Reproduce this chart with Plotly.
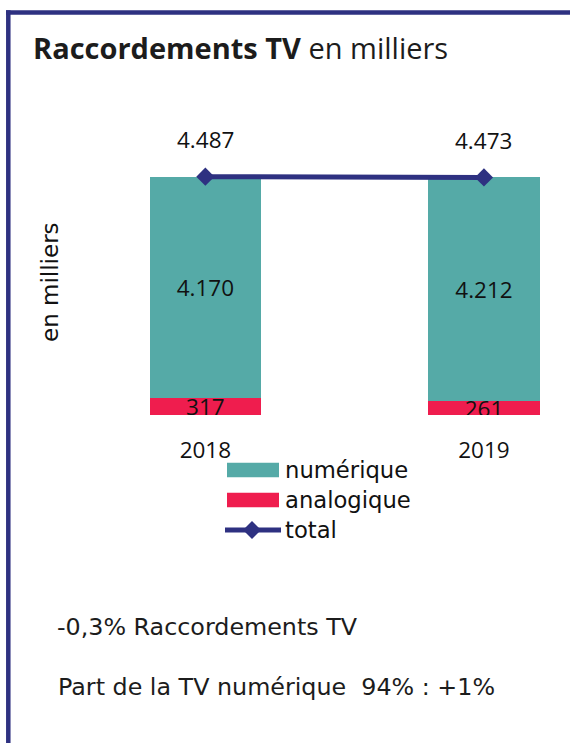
import plotly.graph_objects as go

# --- data -----------------------------------------------------------------
years = ["2018", "2019"]
numerique = [4170, 4212]
analogique = [317, 261]
total = [4487, 4473]
x_pos = [0, 1]

legend_labels = ["numérique", "analogique", "total"]
title_bold = "Raccordements TV"
title_rest = "en milliers"
y_title = "en milliers"
notes = ["-0,3% Raccordements TV", "Part de la TV numérique\u00a0\u00a094% : +1%"]

# --- style ----------------------------------------------------------------
TEAL = "#55AAA7"
RED = "#EF1D4E"
NAVY = "#2E3181"
TEXT = "#1c1c1c"
NUM_FONT = "Open Sans"
TXT_FONT = "DejaVu Sans"

W, H = 570, 743


def px(x):
    return x / W


def py(y):
    return 1 - y / H


def fmt(v):
    return f"{v:,}".replace(",", ".")


fig = go.Figure()

bar_text_font = dict(family=NUM_FONT, size=22.5, color="#111111")
fig.add_trace(go.Bar(
    x=x_pos, y=analogique, name=legend_labels[1], width=0.4,
    marker=dict(color=RED, line_width=0),
    texttemplate="%{y:,}", textposition="inside", insidetextanchor="middle",
    constraintext="none", textangle=0, insidetextfont=bar_text_font,
    showlegend=False,
))
fig.add_trace(go.Bar(
    x=x_pos, y=numerique, name=legend_labels[0], width=0.4,
    marker=dict(color=TEAL, line_width=0),
    texttemplate="%{y:,}", textposition="inside", insidetextanchor="middle",
    constraintext="none", textangle=0, insidetextfont=bar_text_font,
    showlegend=False,
))
fig.add_trace(go.Scatter(
    x=x_pos, y=total, name=legend_labels[2], mode="lines+markers",
    line=dict(color=NAVY, width=5),
    marker=dict(symbol="diamond", size=14, color=NAVY),
    showlegend=False, cliponaxis=False,
))

annotations = []
# totals above the line
for xv, tv in zip(x_pos, total):
    annotations.append(dict(
        x=xv, y=tv, xref="x", yref="y", text=fmt(tv), showarrow=False,
        yshift=37, font=dict(family=NUM_FONT, size=22.5, color="#111111"),
    ))

# title
annotations.append(dict(
    x=px(31), y=py(47), xref="paper", yref="paper", xanchor="left", yanchor="middle",
    text=f"<b>{title_bold}</b> {title_rest}", showarrow=False,
    font=dict(family=NUM_FONT, size=29, color=TEXT),
))

# vertical unit label
annotations.append(dict(
    x=px(50), y=py(282), xref="paper", yref="paper", xanchor="center", yanchor="middle",
    text=y_title, textangle=-90, showarrow=False,
    font=dict(family=TXT_FONT, size=23, color="#111111"),
))

# legend (drawn by hand to get wide swatches)
shapes = []
sw_x0, sw_x1 = 227, 279
legend_rows = [(470, TEAL), (500, RED)]
for (yc, col) in legend_rows:
    shapes.append(dict(type="rect", xref="paper", yref="paper",
                       x0=px(sw_x0), x1=px(sw_x1), y0=py(yc - 7.2), y1=py(yc + 7.2),
                       fillcolor=col, line_width=0))
shapes.append(dict(type="line", xref="paper", yref="paper",
                   x0=px(225), x1=px(281), y0=py(530), y1=py(530),
                   line=dict(color=NAVY, width=5)))
dcx, dcy, dr = 252, 530, 9
shapes.append(dict(type="path", xref="paper", yref="paper",
                   path=(f"M{px(dcx - dr)},{py(dcy)} L{px(dcx)},{py(dcy - dr)} "
                         f"L{px(dcx + dr)},{py(dcy)} L{px(dcx)},{py(dcy + dr)} Z"),
                   fillcolor=NAVY, line_width=0))
for label, yc in zip(legend_labels, [470, 500, 530]):
    annotations.append(dict(
        x=px(283), y=py(yc), xref="paper", yref="paper", xanchor="left", yanchor="middle",
        text=label, showarrow=False, font=dict(family=TXT_FONT, size=22.7, color="#111111"),
    ))

# notes below the chart
for note, yc, xl in zip(notes, [627, 687], [55, 56]):
    annotations.append(dict(
        x=px(xl), y=py(yc), xref="paper", yref="paper", xanchor="left", yanchor="middle",
        text=note, showarrow=False, font=dict(family=TXT_FONT, size=23.8, color=TEXT),
    ))

# frame
shapes.append(dict(type="line", xref="paper", yref="paper",
                   x0=px(8.3), x1=px(8.3), y0=py(10.3), y1=py(H + 5),
                   line=dict(color=NAVY, width=4.5)))
shapes.append(dict(type="line", xref="paper", yref="paper",
                   x0=px(6), x1=px(W + 5), y0=py(12.5), y1=py(12.5),
                   line=dict(color=NAVY, width=4.5)))

fig.update_layout(
    width=W, height=H,
    margin=dict(l=0, r=0, t=0, b=0),
    paper_bgcolor="white", plot_bgcolor="white",
    barmode="stack", separators=",.",
    annotations=annotations, shapes=shapes,
    xaxis=dict(domain=[px(80), px(553.6)], range=[-0.45, 1.25],
               tickvals=x_pos, ticktext=years, ticks="", showgrid=False,
               zeroline=False, showline=False, ticklabelstandoff=19,
               tickfont=dict(family=NUM_FONT, size=22.5, color="#111111")),
    yaxis=dict(domain=[py(415), py(120)], range=[0, 5555], visible=False),
)

fig.write_html("out.html")
